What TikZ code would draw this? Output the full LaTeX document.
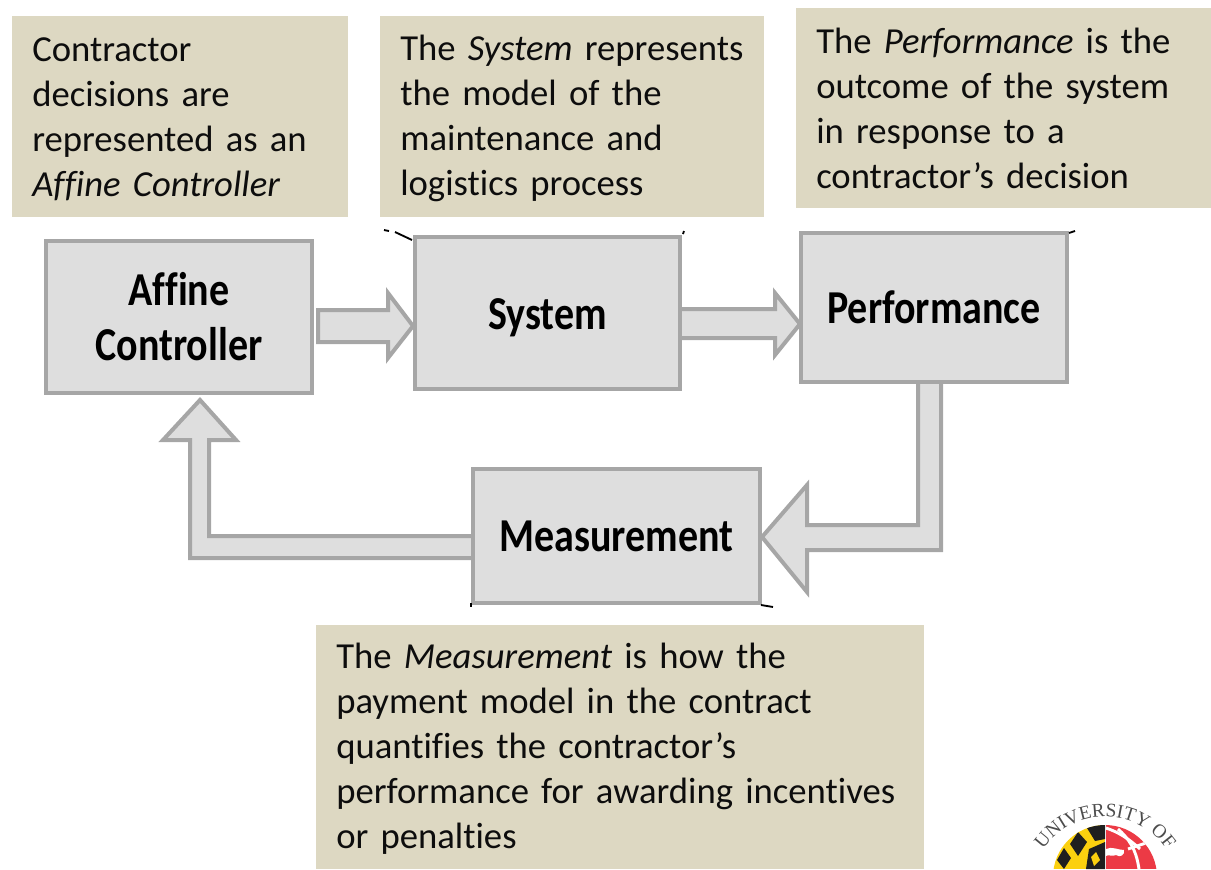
\documentclass[tikz,border=0pt]{standalone}
\usepackage{fontspec}
\usepackage{graphicx}
\setmainfont{Carlito}[WordSpace=0.5,Ligatures=NoCommon]
\newfontfamily\logofont{Liberation Serif}
\usetikzlibrary{decorations.text}
\definecolor{tan}{HTML}{DDD8C2}
\definecolor{boxfill}{HTML}{DEDEDE}
\definecolor{boxline}{HTML}{A6A6A6}
\definecolor{umdgold}{HTML}{FBD00F}
\definecolor{umdred}{HTML}{EC3A45}
\newcommand{\tallbf}[1]{\scalebox{1}[1.18]{#1}}
\newcommand{\firstdrop}{\rule{0pt}{21pt}}
\tikzset{
  note/.style={fill=tan,anchor=north west,inner xsep=15pt,inner ysep=0pt,align=left,text=black!95,font=\fontsize{27.5}{33.75}\selectfont},
  block/.style={draw=boxline,fill=boxfill,line width=3pt,anchor=north west,inner sep=0pt,align=center,font=\bfseries\fontsize{30}{41.25}\selectfont},
  barrow/.style={draw=boxline,fill=boxfill,line width=3pt,miter limit=6},
  speck/.style={black,line width=1.4pt}
}
\begin{document}
\begin{tikzpicture}[x=0.75pt,y=-0.75pt]
\useasboundingbox (0,0) rectangle (1211,869);
\clip (0,0) rectangle (1211,869);
% notes
\node[note,text width=222pt,minimum height=150.75pt] (n1) at (12,16) {\firstdrop Contractor\\decisions are\\represented as an\\\textit{Affine Controller}};
\node[note,text width=258pt,minimum height=150.75pt] (n2) at (380,16) {\firstdrop The \textit{System} represents\\the model of the\\maintenance and\\logistics process};
\node[note,text width=281.25pt,minimum height=150pt] (n3) at (796,8) {The \textit{Performance} is the\\outcome of the system\\in response to a\\contractor’s decision};
\node[note,text width=426pt,minimum height=183pt] (n4) at (316,625) {\firstdrop The \textit{Measurement} is how the\\payment model in the contract\\quantifies the contractor’s\\performance for awarding incentives\\or penalties};
% block arrows (behind the blocks)
\draw[barrow] (318,310) -- (388,310) -- (388,293) -- (413,326) -- (388,358) -- (388,342) -- (318,342) -- cycle;
\draw[barrow] (681,309) -- (775,309) -- (775,293) -- (800,324) -- (775,355) -- (775,338) -- (681,338);
\draw[barrow] (918,383) -- (918,525) -- (807,525) -- (807,485) -- (762,537) -- (807,592) -- (807,550) -- (941,550) -- (941,383);
\draw[barrow] (471,536) -- (209,536) -- (209,440) -- (236,440) -- (200,400) -- (163,440) -- (190,440) -- (190,558) -- (471,558);
% blocks
\node[block,minimum width=199.5pt,minimum height=114pt] (ctrl) at (44,239) {\tallbf{Affine}\\\tallbf{Controller}};
\node[block,minimum width=198.75pt,minimum height=114pt] (sys) at (413,235) {\rule{0pt}{31pt}\tallbf{System}};
\node[block,minimum width=199.5pt,minimum height=111.75pt] (perf) at (799,231) {\tallbf{Performance}};
\node[block,minimum width=215.25pt,minimum height=100.5pt] (meas) at (471,467) {\tallbf{Measurement}};
% stray marks
\draw[speck] (395,232) -- (412,240);
\draw[speck] (384,230) -- (389,231);
\draw[speck] (684,231) -- (683,234);
\draw[speck] (1069,233) -- (1075,231);
\draw[speck] (471,603) -- (471,607);
\draw[speck] (761,605) -- (773,607);
% logo
\begin{scope}
\clip (1105,877) circle (52);
\fill[umdgold] (1050,820) rectangle (1105,869);
\fill[black!88] (1078,832) -- (1087,842) -- (1078,856) -- (1070,844) -- cycle;
\fill[black!88] (1064,848) -- (1071,858) -- (1064,869) -- (1057,860) -- cycle;
\fill[black!88] (1087,828) -- (1105,821) -- (1105,839) -- (1095,841) -- cycle;
\fill[black!88] (1089,849) -- (1105,842) -- (1105,869) -- (1086,869) -- cycle;
\fill[umdgold] (1091,857) -- (1096,852) -- (1100,860) -- (1094,866) -- cycle;
\fill[umdred] (1106,820) rectangle (1160,869);
\draw[white,line width=2.2pt] (1106,828) .. controls (1118,832) and (1128,838) .. (1140,849);
\draw[white,line width=2.2pt] (1118,829) .. controls (1128,838) and (1136,848) .. (1139,869);
\draw[white,line width=2.2pt] (1128,849) -- (1146,843);
\fill[white] (1106,849) .. controls (1112,846) and (1118,850) .. (1124,850) .. controls (1125,855) and (1120,858) .. (1116,855) .. controls (1112,857) and (1108,854) .. (1106,856) -- cycle;
\end{scope}
\path[decorate,decoration={text along path,text align=center,text={|\logofont\fontsize{14.5}{16}\selectfont\color{black!70}|UNIVERSITY OF}}]
  (1034.5,917.7) arc[start angle=160,end angle=380,radius=75];
\end{tikzpicture}
\end{document}
